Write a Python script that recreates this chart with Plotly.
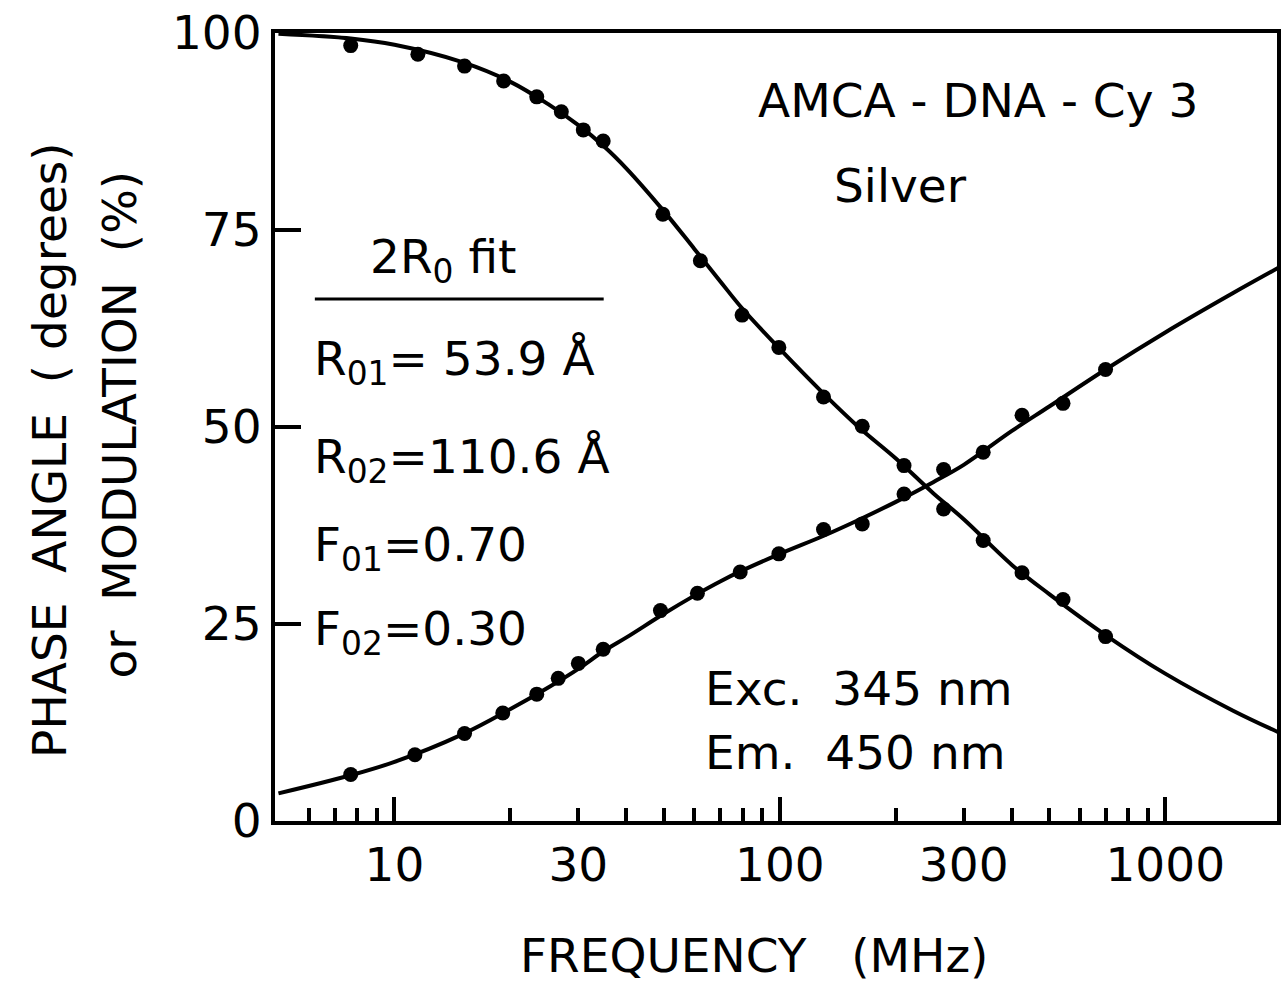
import plotly.graph_objects as go

# ---- data ----
mod_freq = [7.7, 11.5, 15.2, 19.2, 23.4, 27.1, 30.9, 34.8, 49.7, 62.2, 79.8, 99.4,
            129.8, 163.6, 210, 266, 337, 425, 543, 700]
mod_vals = [98.4, 97.3, 95.8, 93.9, 91.9, 90.0, 87.7, 86.3, 77.0, 71.1, 64.2, 60.1,
            53.8, 50.1, 45.1, 39.6, 35.6, 31.5, 28.1, 23.4]

phase_freq = [7.7, 11.3, 15.2, 19.1, 23.4, 26.6, 30.0, 34.8, 49.0, 61.1, 78.9, 99.4,
              129.8, 163.6, 210, 266, 337, 425, 543, 700]
phase_vals = [5.9, 8.4, 11.1, 13.7, 16.1, 18.1, 20.0, 21.8, 26.7, 28.9, 31.6, 33.9,
              37.0, 37.7, 41.5, 44.6, 46.8, 51.5, 53.0, 57.3]

fit_freq = [5, 7.7, 10, 15, 20, 25, 30, 35, 40, 50, 60, 70, 80, 100, 130, 160, 200,
            250, 300, 400, 500, 700, 1000, 1500, 2000]
mod_fit = [99.9, 99.3, 98.5, 96.3, 93.8, 91.0, 88.3, 85.6, 82.8, 77.4, 72.6, 68.5,
           65.0, 59.9, 54.2, 50.0, 46.0, 41.6, 38.3, 32.5, 28.8, 23.6, 18.7, 14.0, 11.1]
phase_fit = [3.5, 5.8, 7.5, 11.0, 14.2, 16.9, 19.3, 21.6, 23.3, 26.3, 28.6, 30.4,
             31.8, 33.9, 36.2, 38.2, 40.5, 43.0, 45.2, 49.5, 52.6, 57.3, 62.0, 67.0, 70.4]

x_major_labels = [10, 30, 100, 300, 1000]
x_long_ticks = [10, 100, 1000]
x_minor_ticks = [6, 7, 8, 9, 20, 40, 50, 60, 70, 80, 90, 200, 400, 500, 600, 700, 800, 900]
y_ticks = [0, 25, 50, 75, 100]

# ---- layout geometry ----
W, H = 1283, 985
L, R, T, B = 275, 2, 33, 164
PW, PH = W - L - R, H - T - B
FONT = "DejaVu Sans, sans-serif"
FS = 47


def px(x):
    return (x - L) / PW


def py(y):
    return (H - B - y) / PH


fig = go.Figure()
for yv in (mod_fit, phase_fit):
    fig.add_trace(go.Scatter(x=fit_freq, y=yv, mode="lines",
                             line=dict(color="black", width=4, shape="spline", smoothing=1.0),
                             showlegend=False, hoverinfo="skip"))
fig.add_trace(go.Scatter(x=mod_freq, y=mod_vals, mode="markers",
                         marker=dict(color="black", size=15), showlegend=False))
fig.add_trace(go.Scatter(x=phase_freq, y=phase_vals, mode="markers",
                         marker=dict(color="black", size=15), showlegend=False))
# invisible trace on overlay axis (long decade ticks)
fig.add_trace(go.Scatter(x=[10], y=[50], xaxis="x2", mode="markers",
                         marker=dict(opacity=0), showlegend=False, hoverinfo="skip"))

xrange = [0.690, 3.290]
fig.update_layout(
    width=W, height=H,
    margin=dict(l=L, r=R, t=T, b=B),
    paper_bgcolor="white", plot_bgcolor="white",
    font=dict(family=FONT, color="black", size=FS),
    xaxis=dict(type="log", range=xrange, tickmode="array",
               tickvals=x_major_labels, ticktext=[str(v) for v in x_major_labels],
               ticks="inside", ticklen=13, tickwidth=4, tickcolor="black",
               showline=True, linewidth=4, linecolor="black", mirror=True,
               showgrid=False, zeroline=False,
               tickfont=dict(family=FONT, size=FS),
               minor=dict(tickmode="array", tickvals=x_minor_ticks, ticks="inside",
                          ticklen=13, tickwidth=4, tickcolor="black", showgrid=False)),
    xaxis2=dict(type="log", range=xrange, overlaying="x", anchor="y", side="bottom",
                tickmode="array", tickvals=x_long_ticks, showticklabels=False,
                ticks="inside", ticklen=24, tickwidth=4, tickcolor="black",
                showline=False, showgrid=False, zeroline=False),
    yaxis=dict(range=[0, 100], tickmode="array", tickvals=y_ticks,
               ticks="inside", ticklen=26, tickwidth=4, tickcolor="black",
               showline=True, linewidth=4, linecolor="black", mirror=True,
               showgrid=False, zeroline=False,
               tickfont=dict(family=FONT, size=FS)),
)


def note(text, x, y, xanchor="left", angle=0, size=FS):
    fig.add_annotation(text=text, x=px(x), y=py(y), xref="paper", yref="paper",
                       xanchor=xanchor, yanchor="middle", showarrow=False,
                       textangle=angle, font=dict(family=FONT, size=size, color="black"))


note("AMCA - DNA - Cy 3", 758, 100)
note("Silver", 834, 185)
note("2R<sub>0</sub> fit", 368, 260)
note("R<sub>01</sub>= 53.9 Å", 312, 362)
note("R<sub>02</sub>=110.6 Å", 312, 460)
note("F<sub>01</sub>=0.70", 312, 548)
note("F<sub>02</sub>=0.30", 312, 632)
note("Exc.  345 nm", 705, 688)
note("Em.  450 nm", 705, 752)
note("FREQUENCY   (MHz)", 756, 955, xanchor="center")
note("PHASE  ANGLE  ( degrees)", 48, 450, xanchor="center", angle=-90)
note("or  MODULATION  (%)", 118, 425, xanchor="center", angle=-90)

fig.add_shape(type="line", xref="paper", yref="paper",
              x0=px(315), x1=px(605), y0=py(299), y1=py(299),
              line=dict(color="black", width=3))

fig.write_html("out.html")
